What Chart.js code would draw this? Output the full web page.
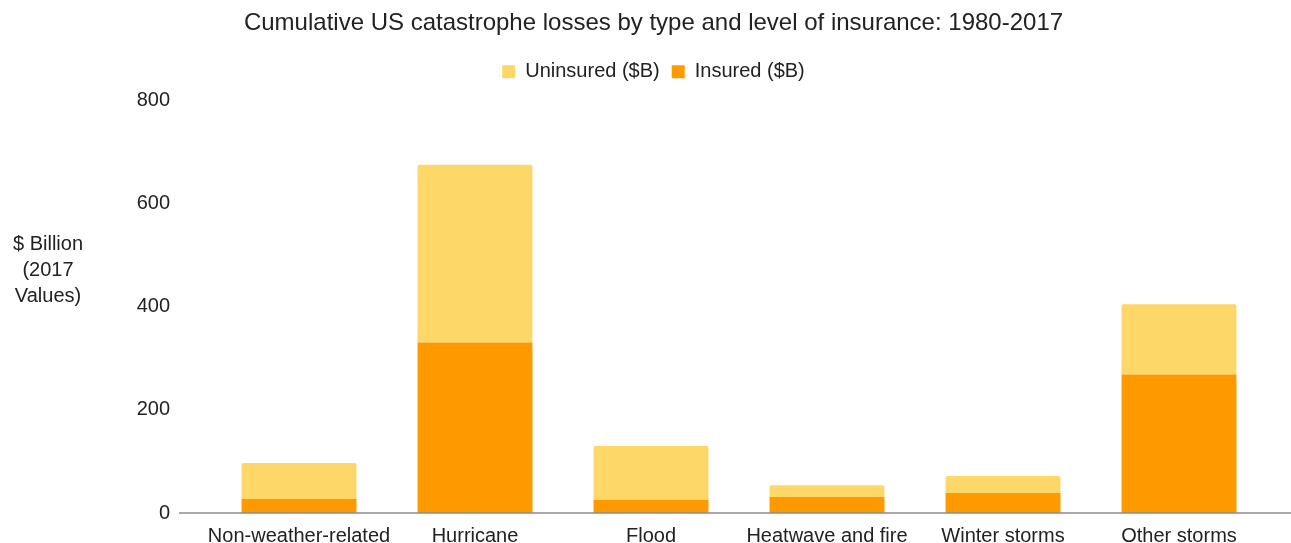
<!DOCTYPE html>
<html>
<head>
    <title>Cumulative US catastrophe losses</title>
    <script src="https://cdn.jsdelivr.net/npm/chart.js"></script>
    <style>
        * { margin: 0; padding: 0; box-sizing: border-box; }
        body { background: #ffffff; overflow: hidden; }
        .chart-container { width: 1291px; height: 558px; position: relative; }
    </style>
</head>
<body>
    <div class="chart-container">
        <canvas id="lossChart"></canvas>
    </div>

    <script>
        // Categorias e valores (US$ bilhões, valores de 2017)
        const categories = ['Non-weather-related', 'Hurricane', 'Flood', 'Heatwave and fire', 'Winter storms', 'Other storms'];
        const insured = [27, 331, 25, 31, 39, 269];
        const uninsured = [70, 345, 105, 23, 33, 136];
        const yTicks = [0, 200, 400, 600, 800];
        const yTitleLines = ['$ Billion', '(2017', 'Values)'];

        const fontFamily = '"Liberation Sans", Arial, sans-serif';

        // Espaço extra abaixo da legenda
        const legendGap = {
            id: 'legendGap',
            beforeInit(chart) {
                const fitLegend = chart.legend.fit;
                chart.legend.fit = function () {
                    fitLegend.bind(chart.legend)();
                    this.height += 9;
                };
            }
        };

        // Título do eixo Y na horizontal + linha de base
        const extras = {
            id: 'extras',
            afterDraw(chart) {
                const c = chart.ctx;
                const y0 = chart.scales.y.getPixelForValue(0);
                c.save();
                c.strokeStyle = '#8c8c8c';
                c.lineWidth = 1.5;
                c.beginPath();
                c.moveTo(179, y0);
                c.lineTo(chart.width, y0);
                c.stroke();

                c.fillStyle = '#222';
                c.font = '20px ' + fontFamily;
                c.textAlign = 'center';
                c.textBaseline = 'middle';
                yTitleLines.forEach((t, i) => c.fillText(t, 48, 244 + i * 26));
                c.restore();
            }
        };

        const config = {
            type: 'bar',
            data: {
                labels: categories,
                datasets: [
                    {
                        label: 'Insured ($B)',
                        data: insured,
                        backgroundColor: '#ff9900',
                        barPercentage: 0.653,
                        categoryPercentage: 1
                    },
                    {
                        label: 'Uninsured ($B)',
                        data: uninsured,
                        backgroundColor: '#fdd767',
                        borderRadius: { topLeft: 2, topRight: 2 },
                        borderSkipped: 'bottom',
                        barPercentage: 0.653,
                        categoryPercentage: 1
                    }
                ]
            },
            options: {
                responsive: true,
                maintainAspectRatio: false,
                animation: false,
                layout: { padding: { left: 40, right: 24, top: 0, bottom: -36 } },
                scales: {
                    x: {
                        stacked: true,
                        grid: { display: false },
                        border: { display: false },
                        ticks: {
                            color: '#222',
                            font: { size: 20, family: fontFamily },
                            padding: 3,
                            maxRotation: 0,
                            autoSkip: false
                        },
                        afterFit: (scale) => { scale.height = 31; }
                    },
                    y: {
                        stacked: true,
                        min: 0,
                        max: 800,
                        afterBuildTicks: (scale) => { scale.ticks = yTicks.map(v => ({ value: v })); },
                        grid: { display: false },
                        border: { display: false },
                        ticks: {
                            color: '#222',
                            font: { size: 20, family: fontFamily },
                            padding: 33
                        },
                        afterFit: (scale) => { scale.width = 171; }
                    }
                },
                plugins: {
                    title: {
                        display: true,
                        text: 'Cumulative US catastrophe losses by type and level of insurance: 1980-2017',
                        color: '#222',
                        font: { size: 24, family: fontFamily, weight: 'normal' },
                        padding: { top: 9, bottom: 12 }
                    },
                    legend: {
                        reverse: true,
                        labels: {
                            color: '#222',
                            font: { size: 20, family: fontFamily },
                            boxWidth: 13,
                            boxHeight: 13,
                            padding: 12
                        }
                    },
                    tooltip: { enabled: false }
                }
            },
            plugins: [legendGap, extras]
        };

        const chart = new Chart(document.getElementById('lossChart').getContext('2d'), config);
    </script>
</body>
</html>
